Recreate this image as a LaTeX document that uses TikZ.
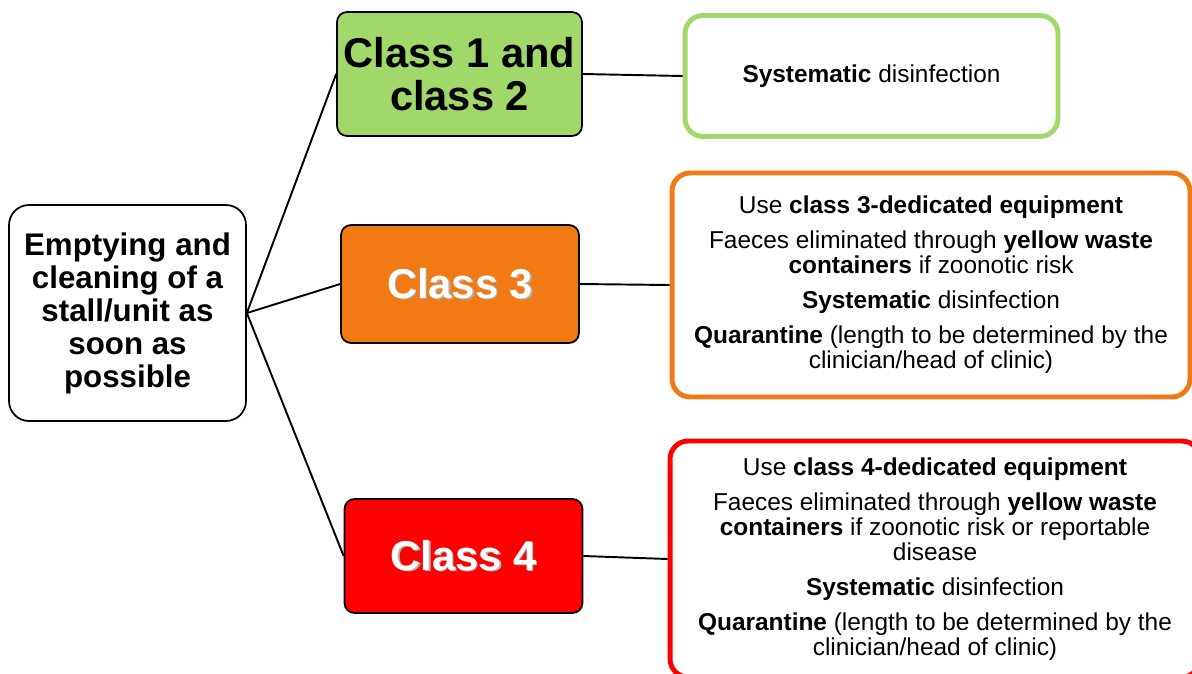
\documentclass[tikz,border=0pt]{standalone}
\usepackage{fontspec}
\setmainfont{Liberation Sans}
\usepackage{xcolor}
\usepackage{tikz}
\usetikzlibrary{positioning, calc}

\definecolor{clsgreen}{RGB}{160,216,106}
\definecolor{clsorange}{RGB}{242,122,20}
\definecolor{clsred}{RGB}{255,0,0}
\newcommand{\shadowed}[1]{\makebox[0pt][l]{\hspace{0.9pt}\raisebox{-0.9pt}{\color{black!30}#1}}#1}

\begin{document}
\begin{tikzpicture}[
			x=0.02cm, y=-0.02cm,
			root/.style={rectangle, rounded corners=0.4cm, draw=black, line width=1pt,
				fill=white, minimum width=4.74cm, minimum height=4.32cm, align=center,
				font=\fontsize{17.8}{18.8}\selectfont\bfseries},
			cls/.style={rectangle, rounded corners=0.2cm, draw=black, line width=1pt,
				minimum width=4.76cm, minimum height=2.36cm, align=center,
				font=\fontsize{23.7}{24.4}\selectfont\bfseries},
			info/.style={rectangle, rounded corners=0.36cm, line width=2.8pt, fill=white,
				align=center, font=\fontsize{13.9}{14.3}\selectfont},
			link/.style={draw=black, line width=1.1pt}
			]
			\useasboundingbox (0,0) rectangle (1192,673);
			\clip (0,0) rectangle (1192,673);
			
			\node[root] (root) at (127.5,313) {Emptying and\\ cleaning of a\\ stall/unit as\\ soon as\\ possible};
			
			\node[cls, fill=clsgreen, minimum width=4.9cm, minimum height=2.48cm] (c12) at (459.5,74) {Class 1 and\\ class 2};
			\node[cls, fill=clsorange, text=white] (c3) at (460,284) {\shadowed{Class 3}};
			\node[cls, fill=clsred, text=white, minimum height=2.28cm] (c4) at (463.5,556) {\shadowed{Class 4}};
			
			\node[info, draw=clsgreen, minimum width=7.46cm, minimum height=2.42cm] (r12) at (871.5,76)
				{\textbf{Systematic} disinfection};
			\node[info, draw=clsorange, minimum width=10.36cm, minimum height=4.48cm] (r3) at (931,285)
				{Use \textbf{class 3-dedicated equipment}\\[5.6pt]
				Faeces eliminated through \textbf{yellow waste}\\ \textbf{containers} if zoonotic risk\\[5.6pt]
				\textbf{Systematic} disinfection\\[5.6pt]
				\textbf{Quarantine} (length to be determined by the\\ clinician/head of clinic)};
			\node[info, draw=clsred, minimum width=10.6cm, minimum height=4.72cm] (r4) at (935,559)
				{Use \textbf{class 4-dedicated equipment}\\[5.6pt]
				Faeces eliminated through \textbf{yellow waste}\\ \textbf{containers} if zoonotic risk or reportable\\ disease\\[5.6pt]
				\textbf{Systematic} disinfection\\[5.6pt]
				\textbf{Quarantine} (length to be determined by the\\ clinician/head of clinic)};
			
			\draw[link] (root.east) -- (c12.west);
			\draw[link] (root.east) -- (c3.west);
			\draw[link] (root.east) -- (c4.west);
			\draw[link] (c12.east) -- (r12.west);
			\draw[link] (c3.east) -- (r3.west);
			\draw[link] (c4.east) -- (r4.west);
		\end{tikzpicture}
\end{document}
